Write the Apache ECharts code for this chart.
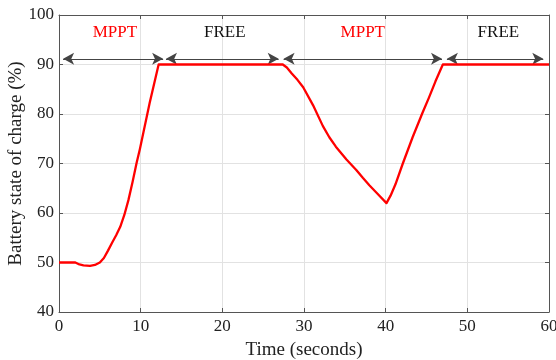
<!DOCTYPE html>
<html>
<head>
<meta charset="utf-8">
<script src="https://cdn.jsdelivr.net/npm/echarts@6/dist/echarts.min.js"></script>
<style>html,body{margin:0;padding:0;background:#fff}#c{width:556px;height:360px}</style>
</head>
<body>
<div id="c"></div>
<script>
// Data
var timeSec = [0, 2.0, 2.5, 3.0, 3.8, 4.4, 5.0, 5.5, 6.0, 6.5, 7.0, 7.5, 8.0, 8.5, 9.0, 9.5, 9.9, 11.1, 12.2, 27.4, 27.9, 28.5, 29.2, 29.9, 31.1, 32.3, 33.1, 33.9, 35.2, 36.4, 37.2, 38.0, 39.0, 40.1, 40.6, 41.2, 42.1, 43.3, 44.5, 45.3, 46.1, 47.0, 60];
var soc     = [50, 50, 49.6, 49.4, 49.3, 49.5, 50.0, 50.9, 52.4, 54.0, 55.5, 57.2, 59.6, 62.6, 66.2, 70.1, 72.9, 82.2, 90, 90, 89.4, 88.2, 86.9, 85.4, 81.8, 77.6, 75.3, 73.4, 70.8, 68.7, 67.1, 65.6, 63.9, 62.0, 63.5, 65.8, 70.0, 75.3, 80.2, 83.3, 86.6, 90, 90];
var arrowStart = [0.5, 13.1, 27.5, 47.5];
var arrowEnd   = [12.75, 26.9, 46.9, 59.3];
var arrowLevel = 91.15;
var modeLabels = ['MPPT', 'FREE', 'MPPT', 'FREE'];
var labelTime  = [6.85, 20.3, 37.2, 53.8];
var labelLevel = 96.5;
var xTicks = [0, 10, 20, 30, 40, 50, 60];
var yTicks = [40, 50, 60, 70, 80, 90, 100];

var font = 'Liberation Serif, Times New Roman, serif';
var axisCol = '#555';
var gridCol = '#e2e2e2';

var chart = echarts.init(document.getElementById('c'), null, {renderer: 'canvas'});
var socData = timeSec.map(function (t, i) { return [t, soc[i]]; });
var arrowLines = arrowStart.map(function (s, i) {
  return [{coord: [s, arrowLevel]}, {coord: [arrowEnd[i], arrowLevel]}];
});
var labelData = modeLabels.map(function (m, i) {
  return {value: [labelTime[i], labelLevel], name: m,
    label: {color: m === 'MPPT' ? '#ff0000' : '#111'}};
});

function baseX(pos, showLabel) {
  return {
    type: 'value', position: pos, min: xTicks[0], max: xTicks[xTicks.length - 1], interval: 10,
    axisLine: {show: true, onZero: false, lineStyle: {color: axisCol, width: 1}},
    axisTick: {show: true, inside: true, length: 4, lineStyle: {color: axisCol}},
    axisLabel: {show: showLabel, color: '#222', fontFamily: font, fontSize: 17, margin: 6},
    splitLine: {show: showLabel, lineStyle: {color: gridCol, width: 1}}
  };
}
function baseY(pos, showLabel) {
  return {
    type: 'value', position: pos, min: yTicks[0], max: yTicks[yTicks.length - 1], interval: 10,
    axisLine: {show: true, onZero: false, lineStyle: {color: axisCol, width: 1}},
    axisTick: {show: true, inside: true, length: 4, lineStyle: {color: axisCol}},
    axisLabel: {show: showLabel, color: '#222', fontFamily: font, fontSize: 17, margin: 5},
    splitLine: {show: showLabel, lineStyle: {color: gridCol, width: 1}}
  };
}

var xa = baseX('bottom', true);
xa.name = 'Time (seconds)';
xa.nameLocation = 'middle';
xa.nameGap = 29;
xa.nameMoveOverlap = false;
xa.nameTextStyle = {fontFamily: font, fontSize: 19, color: '#222'};
var ya = baseY('left', true);
ya.name = 'Battery state of charge (%)';
ya.nameLocation = 'middle';
ya.nameGap = 33;
ya.nameMoveOverlap = false;
ya.nameTextStyle = {fontFamily: font, fontSize: 19, color: '#222'};

chart.setOption({
  animation: false,
  backgroundColor: '#fff',
  grid: {left: 59, right: 7, top: 15, bottom: 48, containLabel: false, outerBoundsMode: 'none'},
  xAxis: [xa, baseX('top', false)],
  yAxis: [ya, baseY('right', false)],
  series: [
    {
      type: 'line', data: socData, showSymbol: false, symbol: 'none',
      lineStyle: {color: '#ff0000', width: 2.3, join: 'round'}, z: 5,
      markLine: {
        silent: true, symbol: ['arrow', 'arrow'], symbolSize: [9, 11],
        lineStyle: {color: '#444', width: 1, type: 'solid'},
        itemStyle: {color: '#111'},
        label: {show: false},
        emphasis: {disabled: true},
        data: arrowLines
      }
    },
    {
      type: 'scatter', data: labelData, symbolSize: 0, z: 6, silent: true,
      itemStyle: {opacity: 1},
      label: {show: true, position: 'inside', formatter: '{b}', fontFamily: font, fontSize: 17, opacity: 1}
    }
  ]
});
</script>
</body>
</html>
